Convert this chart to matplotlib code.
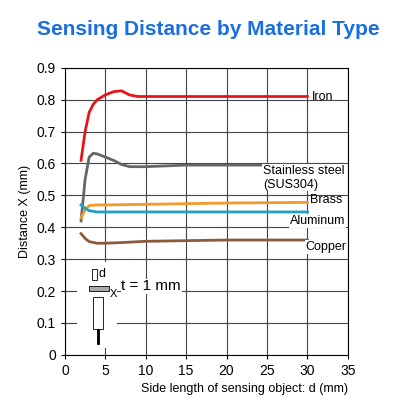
import matplotlib
matplotlib.use("Agg")
import matplotlib.pyplot as plt
from matplotlib.patches import Rectangle

plt.rcParams['font.family'] = ['Liberation Sans', 'DejaVu Sans']

iron_x = [2, 2.5, 3, 3.5, 4, 5, 6, 7, 8, 9, 12, 20, 30]
iron_y = [0.61, 0.70, 0.76, 0.785, 0.80, 0.815, 0.825, 0.828, 0.815, 0.81, 0.81, 0.81, 0.81]
ss_x = [2, 2.5, 3, 3.5, 4, 5, 6, 7, 8, 10, 15, 30]
ss_y = [0.42, 0.55, 0.62, 0.632, 0.63, 0.62, 0.61, 0.597, 0.59, 0.59, 0.595, 0.595]
brass_x = [2, 2.5, 3, 4, 5, 10, 20, 30]
brass_y = [0.43, 0.455, 0.468, 0.47, 0.47, 0.472, 0.476, 0.478]
al_x = [2, 2.5, 3, 4, 5, 10, 30]
al_y = [0.47, 0.46, 0.452, 0.448, 0.448, 0.448, 0.448]
cu_x = [2, 2.5, 3, 4, 5, 7, 10, 20, 30]
cu_y = [0.38, 0.365, 0.355, 0.35, 0.35, 0.352, 0.356, 0.36, 0.36]

fig = plt.figure(figsize=(4.16, 4.16), dpi=100)
ax = fig.add_axes([0.156, 0.147, 0.68, 0.69])
fig.text(0.5, 0.93, "Sensing Distance by Material Type", ha="center", va="center",
         color="#1a6fe0", fontsize=15, fontweight="bold")

ax.plot(iron_x, iron_y, color="#e8141c", lw=2)
ax.plot(ss_x, ss_y, color="#666666", lw=2)
ax.plot(brass_x, brass_y, color="#f59a2a", lw=2)
ax.plot(al_x, al_y, color="#1ea0c0", lw=2)
ax.plot(cu_x, cu_y, color="#8b5a3a", lw=2)

ax.set_xlim(0, 35)
ax.set_ylim(0, 0.9)
ax.set_xticks(range(0, 36, 5))
ax.set_yticks([i / 10 for i in range(10)])
ax.set_yticklabels(["0"] + [f"{i/10:.1f}" for i in range(1, 10)])
ax.grid(True, color="#444444", lw=0.8)
ax.tick_params(labelsize=10, length=3)
ax.set_ylabel("Distance X (mm)", fontsize=9)
ax.set_xlabel("Side length of sensing object: d (mm)", fontsize=9, loc="right")

wb = dict(facecolor="white", edgecolor="none", pad=0.5)
kw = dict(fontsize=9, va="center", ha="left")
ax.text(30.5, 0.81, "Iron", **kw)
ax.text(24.5, 0.555, "Stainless steel\n(SUS304)", **kw, bbox=wb)
ax.text(30.3, 0.487, "Brass", **kw)
ax.text(27.8, 0.42, "Aluminum", **kw, bbox=wb)
ax.text(29.8, 0.338, "Copper", **kw, bbox=wb)

# sensor sketch
ax.add_patch(Rectangle((1.5, 0.02), 5.0, 0.27, facecolor="white", edgecolor="none", zorder=3))
ax.text(7, 0.215, "t = 1 mm", fontsize=11, va="center", ha="left", bbox=wb, zorder=5)
ax.add_patch(Rectangle((3.0, 0.2), 2.4, 0.015, facecolor="#aaaaaa", edgecolor="black", lw=0.6, zorder=4))
ax.add_patch(Rectangle((3.3, 0.235), 0.7, 0.035, facecolor="white", edgecolor="black", lw=0.6, zorder=4))
ax.text(4.2, 0.252, "d", fontsize=9, va="center", zorder=5)
ax.text(5.6, 0.19, "X", fontsize=8, va="center", zorder=5)
ax.add_patch(Rectangle((3.5, 0.08), 1.2, 0.1, facecolor="white", edgecolor="black", lw=0.6, zorder=4))
ax.add_patch(Rectangle((3.95, 0.035), 0.3, 0.045, facecolor="black", edgecolor="black", lw=0.6, zorder=4))

fig.savefig("out.png", dpi=100, facecolor="white")
